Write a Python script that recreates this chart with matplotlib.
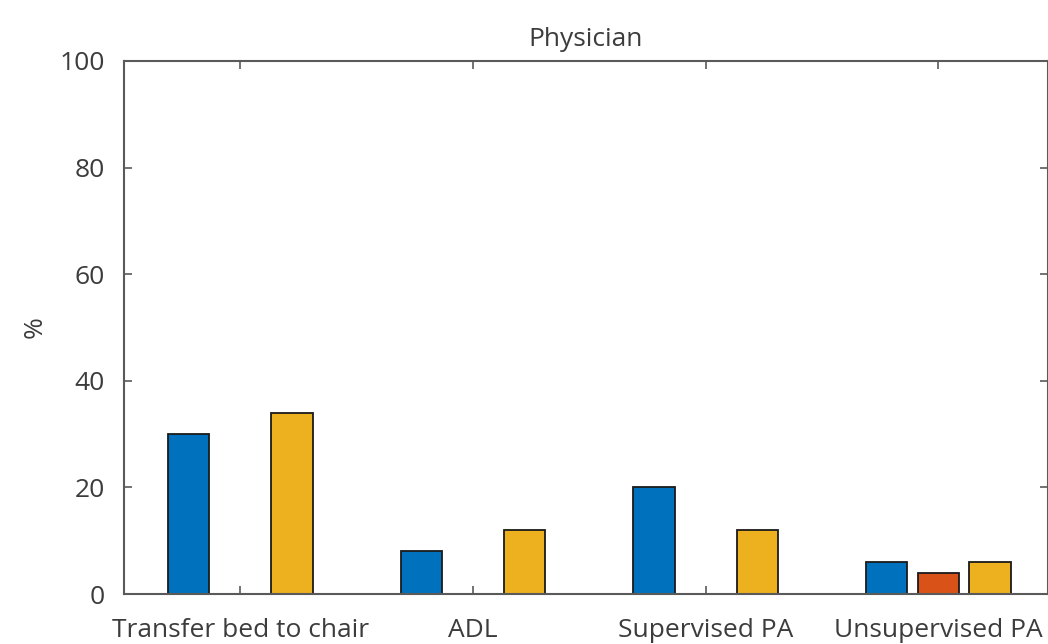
import numpy as np
import matplotlib
matplotlib.use("Agg")
import matplotlib.pyplot as plt

# Activities on the x axis and the share (%) for each of the three series
categories = ["Transfer bed to chair", "ADL", "Supervised PA", "Unsupervised PA"]
series_a = [30, 8, 20, 6]
series_b = [0, 0, 0, 4]
series_c = [34, 12, 12, 6]
y_ticks = [0, 20, 40, 60, 80, 100]

colors = ["#0072BD", "#D95319", "#EDB120"]
text_color = "#3c3c3c"
axis_color = "#5a5a5a"

plt.rcParams["font.family"] = ["Open Sans", "DejaVu Sans"]

W, H = 1048, 644
fig = plt.figure(figsize=(W / 100, H / 100), dpi=100)
left, right, top, bottom = 124, 1047.5, 61, 594
ax = fig.add_axes([left / W, 1 - bottom / H, (right - left) / W, (bottom - top) / H])

x = np.arange(1, len(categories) + 1)
n = 3
group_w = n / (n + 1.5)
step = group_w / n
bar_w = 0.8 * step
for i, (vals, c) in enumerate(zip([series_a, series_b, series_c], colors)):
    offs = (i - 1) * step
    edges = ["#1a1a1a" if v > 0 else "none" for v in vals]
    ax.bar(x + offs, vals, width=bar_w, color=c, edgecolor=edges, linewidth=1.3, zorder=3)

ax.set_xlim(0.5, 0.5 + (right - left) / 232.7)
ax.set_ylim(0, 100)
ax.set_xticks(x)
ax.set_xticklabels(categories)
ax.set_yticks(y_ticks)

ax.tick_params(axis="both", direction="in", length=6, width=1.2, color=axis_color,
               labelsize=19, labelcolor=text_color, top=True, right=True)
ax.tick_params(axis="x", pad=17)
ax.tick_params(axis="y", pad=14)
for s in ax.spines.values():
    s.set_color(axis_color)
    s.set_linewidth(1.5)
    s.set_zorder(4)

ax.set_ylabel("%", fontsize=19, color=text_color, labelpad=8)
ax.set_title("Physician", fontsize=19, color=text_color, pad=11)

fig.savefig("out.png", dpi=100)
